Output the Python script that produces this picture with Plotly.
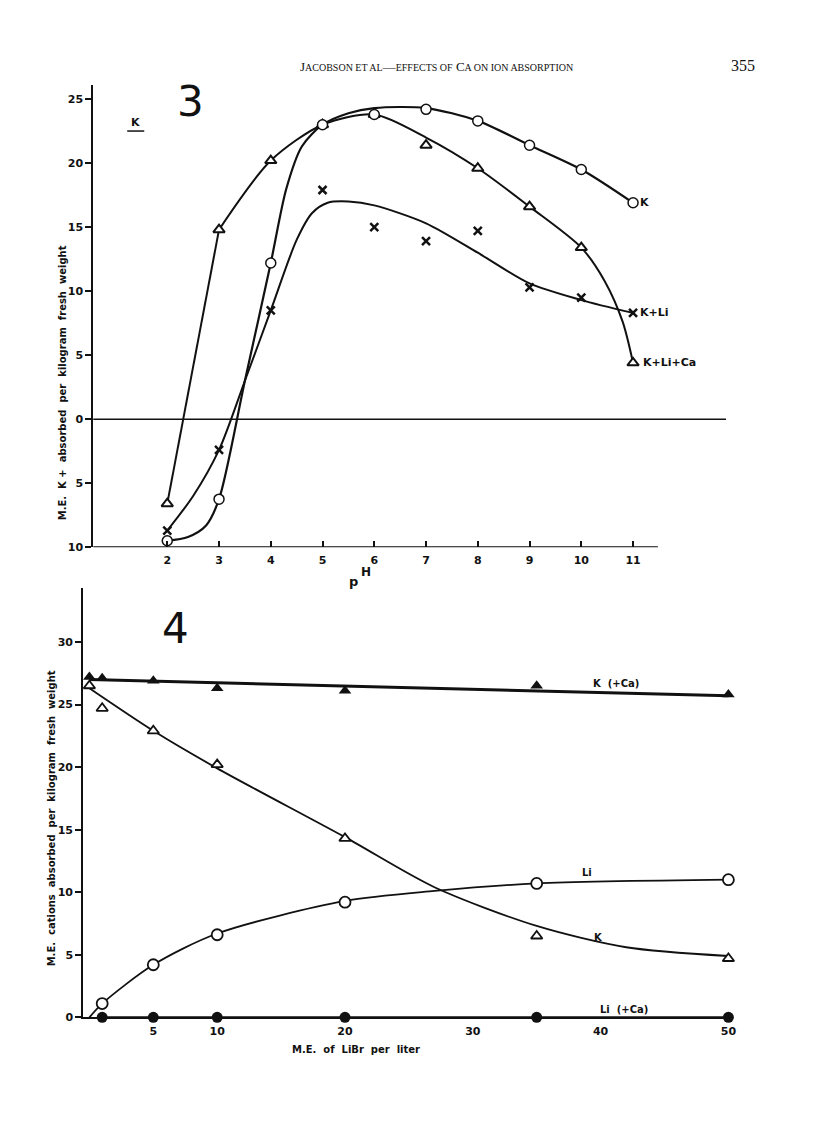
import plotly.graph_objects as go

W, H = 816, 1121
S = 1.0066
def px(x): return x * S / W
def py(y): return 1 - y * S / H

# ---------------- Figure 3 data (pH) ----------------
ph = [2, 3, 4, 5, 6, 7, 8, 9, 10, 11]
k_pts = [-9.5, -6.25, 12.2, 23.0, 23.8, 24.2, 23.3, 21.4, 19.5, 16.9]
kli_pts = [-8.7, -2.4, 8.5, 17.9, 15.0, 13.9, 14.7, 10.3, 9.5, 8.3]
klica_pts = [-6.6, 14.8, 20.2, 23.0, 23.8, 21.4, 19.6, 16.6, 13.4, 4.4]

# hand-drawn curves
k_curve_x = [2, 2.4, 2.75, 3, 3.5, 4, 4.3, 4.6, 5, 5.5, 6, 7, 8, 9, 10, 11]
k_curve_y = [-9.5, -9.2, -8.3, -6.25, 3.0, 12.2, 18.0, 21.3, 23.0, 23.9, 24.3, 24.3, 23.3, 21.4, 19.5, 16.9]
kli_curve_x = [2, 2.5, 3, 3.5, 4, 4.5, 4.8, 5.1, 5.5, 6, 7, 8, 9, 10, 11]
kli_curve_y = [-8.7, -6.0, -2.4, 3.0, 8.5, 14.0, 16.1, 16.9, 17.0, 16.7, 15.3, 13.0, 10.6, 9.3, 8.3]
klica_seg_x = [2, 3]
klica_seg_y = [-6.6, 14.8]
klica_curve_x = [3, 4, 5, 6, 7, 8, 9, 10, 10.45, 10.8, 11]
klica_curve_y = [14.8, 20.2, 23.0, 23.8, 22.0, 19.6, 16.6, 13.4, 10.8, 7.6, 4.4]

y3_tickvals = [25, 20, 15, 10, 5, 0, -5, -10]
y3_ticktext = ["25", "20", "15", "10", "5", "0", "5", "10"]

# ---------------- Figure 4 data (LiBr) ----------------
libr = [0, 1, 5, 10, 20, 35, 50]
k_open = [26.5, 24.7, 22.9, 20.2, 14.3, 6.5, 4.7]
libr_kca = [0, 1, 5, 10, 20, 35, 50]
k_ca = [27.2, 27.1, 26.9, 26.3, 26.1, 26.5, 25.8]
libr_li = [1, 5, 10, 20, 35, 50]
li_open = [1.1, 4.2, 6.6, 9.2, 10.7, 11.0]
li_ca = [0, 0, 0, 0, 0, 0]

kca_line_x = [0, 50]
kca_line_y = [27.0, 25.7]
li_curve_x = [0, 1, 5, 10, 20, 27, 35, 50]
li_curve_y = [0, 1.1, 4.2, 6.7, 9.3, 10.1, 10.7, 11.0]
k_curve4_x = [0, 5, 10, 20, 27, 35, 42, 50]
k_curve4_y = [26.3, 22.9, 19.9, 14.4, 10.4, 7.3, 5.6, 4.9]

x4_ticks = [5, 10, 20, 30, 40, 50]
y4_ticks = [0, 5, 10, 15, 20, 25, 30]

FONT = "DejaVu Sans"
BLK = "#111111"

fig = go.Figure()

# ---------- Figure 3 traces ----------
fig.add_trace(go.Scatter(x=k_curve_x, y=k_curve_y, mode="lines", line=dict(color=BLK, width=2.2, shape="spline", smoothing=0.8), xaxis="x", yaxis="y"))
fig.add_trace(go.Scatter(x=kli_curve_x, y=kli_curve_y, mode="lines", line=dict(color=BLK, width=2, shape="spline", smoothing=0.8), xaxis="x", yaxis="y"))
fig.add_trace(go.Scatter(x=klica_seg_x, y=klica_seg_y, mode="lines", line=dict(color=BLK, width=2), xaxis="x", yaxis="y"))
fig.add_trace(go.Scatter(x=klica_curve_x, y=klica_curve_y, mode="lines", line=dict(color=BLK, width=2, shape="spline", smoothing=0.8), xaxis="x", yaxis="y"))

fig.add_trace(go.Scatter(x=ph, y=kli_pts, mode="markers", cliponaxis=False,
                         marker=dict(symbol="x-thin", size=8, line=dict(color=BLK, width=2.5)), xaxis="x", yaxis="y"))
fig.add_trace(go.Scatter(x=ph, y=klica_pts, mode="markers", cliponaxis=False,
                         marker=dict(symbol="triangle-up", size=10, color="white", line=dict(color=BLK, width=2)), xaxis="x", yaxis="y"))
fig.add_trace(go.Scatter(x=ph, y=k_pts, mode="markers", cliponaxis=False,
                         marker=dict(symbol="circle", size=10, color="white", line=dict(color=BLK, width=1.5)), xaxis="x", yaxis="y"))

# ---------- Figure 4 traces ----------
fig.add_trace(go.Scatter(x=kca_line_x, y=kca_line_y, mode="lines", line=dict(color=BLK, width=3), xaxis="x2", yaxis="y2"))
fig.add_trace(go.Scatter(x=k_curve4_x, y=k_curve4_y, mode="lines", line=dict(color=BLK, width=1.8, shape="spline", smoothing=0.8), xaxis="x2", yaxis="y2"))
fig.add_trace(go.Scatter(x=li_curve_x, y=li_curve_y, mode="lines", line=dict(color=BLK, width=1.8, shape="spline", smoothing=0.8), xaxis="x2", yaxis="y2"))
fig.add_trace(go.Scatter(x=libr_li, y=li_ca, mode="lines", line=dict(color=BLK, width=2), xaxis="x2", yaxis="y2"))

fig.add_trace(go.Scatter(x=libr_kca, y=k_ca, mode="markers", cliponaxis=False,
                         marker=dict(symbol="triangle-up", size=11, color=BLK), xaxis="x2", yaxis="y2"))
fig.add_trace(go.Scatter(x=libr, y=k_open, mode="markers", cliponaxis=False,
                         marker=dict(symbol="triangle-up", size=10, color="white", line=dict(color=BLK, width=1.8)), xaxis="x2", yaxis="y2"))
fig.add_trace(go.Scatter(x=libr_li, y=li_open, mode="markers", cliponaxis=False,
                         marker=dict(symbol="circle", size=11, color="white", line=dict(color=BLK, width=1.8)), xaxis="x2", yaxis="y2"))
fig.add_trace(go.Scatter(x=libr_li, y=li_ca, mode="markers", cliponaxis=False,
                         marker=dict(symbol="circle", size=11, color=BLK), xaxis="x2", yaxis="y2"))

tickfont = dict(family=FONT, size=11, color=BLK, weight="bold")

fig.update_layout(
    width=W, height=H, margin=dict(l=0, r=0, t=0, b=0),
    paper_bgcolor="white", plot_bgcolor="white", showlegend=False,
    xaxis=dict(domain=[px(93), px(725)], range=[0.568, 12.8], anchor="y",
               tickvals=ph, ticktext=[str(v) for v in ph], ticks="inside", ticklen=6, tickwidth=1.5,
               tickcolor=BLK, showline=False, showgrid=False, zeroline=False, tickfont=tickfont,
               ticklabelstandoff=5),
    yaxis=dict(domain=[py(547), py(85)], range=[-10, 26.1], anchor="x",
               tickvals=y3_tickvals, ticktext=y3_ticktext, ticks="outside", ticklen=6, tickwidth=1.5,
               tickcolor=BLK, showline=True, linecolor=BLK, linewidth=1.8, showgrid=False, zeroline=False,
               tickfont=tickfont),
    xaxis2=dict(domain=[px(83), px(731)], range=[-0.49, 50.3], anchor="y2",
                tickvals=x4_ticks, ticks="", showline=True, linecolor=BLK, linewidth=1.8,
                showgrid=False, zeroline=False, tickfont=tickfont, ticklabelstandoff=3),
    yaxis2=dict(domain=[py(1017), py(588)], range=[0, 34.3], anchor="x2",
                tickvals=y4_ticks, ticks="outside", ticklen=6, tickwidth=1.5, tickcolor=BLK,
                showline=True, linecolor=BLK, linewidth=1.8, showgrid=False, zeroline=False,
                tickfont=tickfont),
)

shapes = [
    dict(type="line", xref="x", yref="y", x0=0.568, x1=11.48, y0=-10, y1=-10, line=dict(color=BLK, width=1.8)),
    dict(type="line", xref="x", yref="y", x0=0.568, x1=12.8, y0=0, y1=0, line=dict(color=BLK, width=1.5)),
    dict(type="line", xref="paper", yref="paper", x0=px(127), x1=px(144), y0=py(131), y1=py(131), line=dict(color=BLK, width=1.5)),
]
fig.update_layout(shapes=shapes)

lab = dict(family=FONT, size=11, color=BLK, weight="bold")
lab10 = dict(family=FONT, size=10, color=BLK, weight="bold")

def pann(text, x, y, font, **kw):
    d = dict(text=text, x=px(x), y=py(y), xref="paper", yref="paper", showarrow=False,
             xanchor="center", yanchor="middle", font=font)
    d.update(kw)
    return d

ann = [
    pann("J<span style='font-size:10px'>ACOBSON ET AL</span>—<span style='font-size:10px'>EFFECTS OF</span> C<span style='font-size:10px'>A ON ION ABSORPTION</span>",
         436, 66, dict(family="Liberation Serif", size=13, color=BLK)),
    pann("355", 742, 65, dict(family="Liberation Serif", size=16, color=BLK)),
    pann("3", 190, 101, dict(family=FONT, size=42, color=BLK)),
    pann("K", 135, 122, lab),
    pann("M.E.  K +  absorbed  per  kilogram  fresh  weight", 62, 383, lab10, textangle=-90),
    pann("p", 353, 581, dict(family=FONT, size=13, color=BLK, weight="bold")),
    pann("H", 365, 572, dict(family=FONT, size=12, color=BLK, weight="bold")),
    dict(text="K", x=11, y=k_pts[-1], xref="x", yref="y", xanchor="left", yanchor="middle", xshift=5, showarrow=False, font=lab),
    dict(text="K+Li", x=11, y=kli_pts[-1], xref="x", yref="y", xanchor="left", yanchor="middle", xshift=5, showarrow=False, font=lab),
    dict(text="K+Li+Ca", x=11, y=klica_pts[-1], xref="x", yref="y", xanchor="left", yanchor="middle", xshift=8, showarrow=False, font=lab),
    pann("4", 175, 628, dict(family=FONT, size=42, color=BLK)),
    pann("M.E.  cations  absorbed  per  kilogram  fresh  weight", 51, 818, lab10, textangle=-90),
    pann("M.E.  of  LiBr  per  liter", 355, 1049, lab10),
    dict(text="K  (+Ca)", x=41.2, y=26.7, xref="x2", yref="y2", showarrow=False, xanchor="center", yanchor="middle", font=lab10),
    dict(text="Li", x=38.9, y=11.6, xref="x2", yref="y2", showarrow=False, xanchor="center", yanchor="middle", font=lab10),
    dict(text="K", x=39.8, y=6.4, xref="x2", yref="y2", showarrow=False, xanchor="center", yanchor="middle", font=lab10),
    dict(text="Li  (+Ca)", x=41.8, y=0.6, xref="x2", yref="y2", showarrow=False, xanchor="center", yanchor="middle", font=lab10),
]
fig.update_layout(annotations=ann)

post = ("var s=document.createElement('style');"
        "s.textContent='html,body{margin:0;padding:0;overflow:hidden;width:816px;height:1121px;}';"
        "document.head.appendChild(s);")
fig.write_html("out.html", config={"displayModeBar": False}, post_script=post)
